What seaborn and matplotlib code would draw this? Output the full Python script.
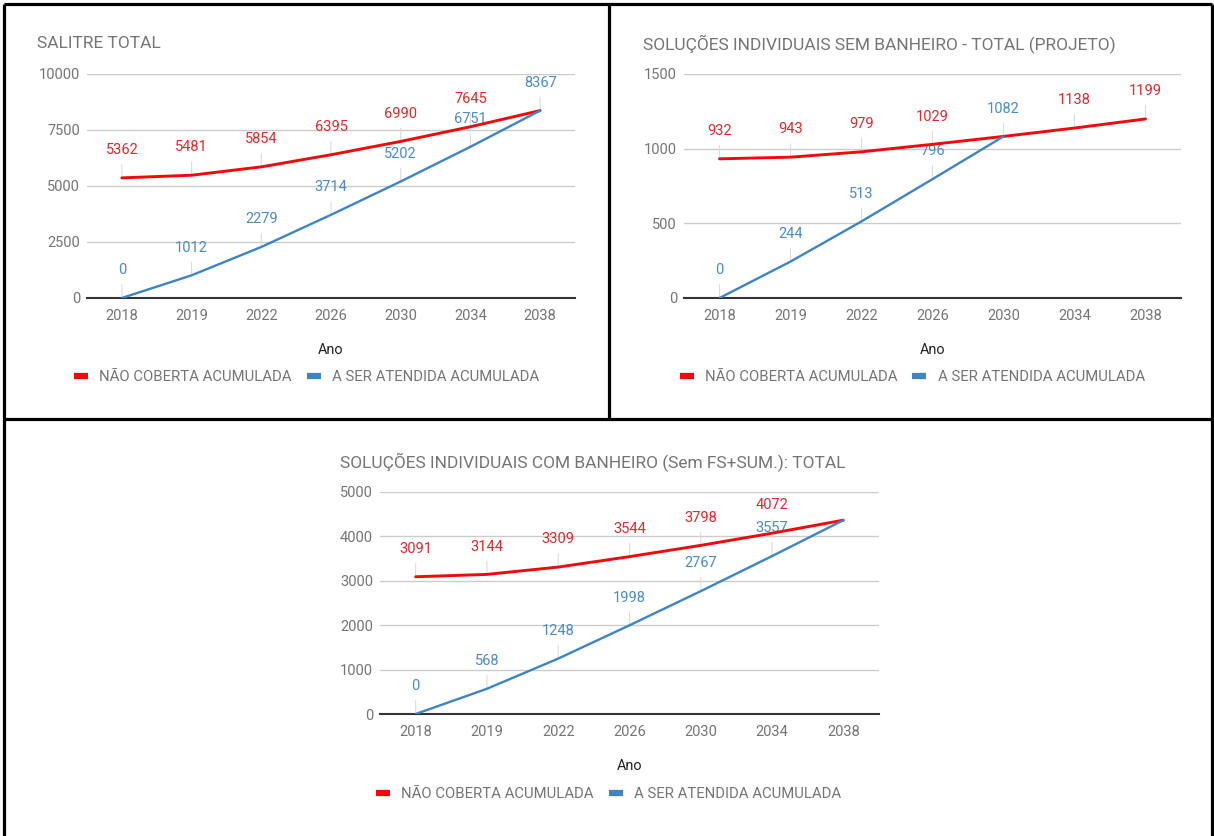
import numpy as np
import pandas as pd
import matplotlib
matplotlib.use("Agg")
import matplotlib.pyplot as plt
from matplotlib.lines import Line2D
import seaborn as sns

# dados
anos = ["2018", "2019", "2022", "2026", "2030", "2034", "2038"]
serie_nao = "NÃO COBERTA ACUMULADA"
serie_atend = "A SER ATENDIDA ACUMULADA"

salitre_nao = [5362, 5481, 5854, 6395, 6990, 7645, 8367]
salitre_atend = [0, 1012, 2279, 3714, 5202, 6751, 8367]
salitre_yticks = [0, 2500, 5000, 7500, 10000]

sem_banh_nao = [932, 943, 979, 1029, 1082, 1138, 1199]
sem_banh_atend = [0, 244, 513, 796, 1082, np.nan, np.nan]
sem_banh_yticks = [0, 500, 1000, 1500]

com_banh_nao = [3091, 3144, 3309, 3544, 3798, 4072, 4365]
com_banh_atend = [0, 568, 1248, 1998, 2767, 3557, 4365]
com_banh_yticks = [0, 1000, 2000, 3000, 4000, 5000]

RED = "#f00a0a"
RED_TXT = "#e8262c"
BLUE = "#3d85c6"
BLUE_TXT = "#4a8bc9"
GRAY = "#757575"

sns.set_theme(style="white")
plt.rcParams["font.family"] = ["Roboto", "DejaVu Sans"]

W, H = 1214, 836
fig = plt.figure(figsize=(W / 100, H / 100), dpi=100)


def px_axes(left, top, right, bottom):
    return fig.add_axes([left / W, 1 - bottom / H, (right - left) / W, (bottom - top) / H])


def chart(ax, titulo, tx, ty, nao, atend, yticks, hide_nao, hide_atend, leg_x, leg_y, ano_y):
    pos = np.arange(len(anos))
    df = pd.DataFrame({
        "pos": np.concatenate([pos, pos]),
        "valor": list(nao) + list(atend),
        "serie": [serie_nao] * len(anos) + [serie_atend] * len(anos),
    })
    sns.lineplot(data=df, x="pos", y="valor", hue="serie",
                 palette={serie_nao: RED, serie_atend: BLUE},
                 size="serie", sizes={serie_nao: 2.1, serie_atend: 1.7},
                 legend=False, ax=ax, zorder=3)

    for vals, cor, hide in [(nao, RED_TXT, hide_nao), (atend, BLUE_TXT, hide_atend)]:
        for i, v in enumerate(vals):
            if i in hide or np.isnan(v):
                continue
            ax.annotate(f"{int(v)}", xy=(i, v), xytext=(0, 20), textcoords="offset points",
                        ha="center", va="center", color=cor, fontsize=10.5, zorder=1.5,
                        arrowprops=dict(arrowstyle="-", color="#dcdcdc", lw=0.8,
                                        shrinkA=3, shrinkB=0))

    ax.set_xlim(-0.5, len(anos) - 0.5)
    ax.set_ylim(0, yticks[-1])
    ax.set_xticks(pos, anos)
    ax.set_yticks(yticks)
    ax.yaxis.grid(True, color="#cccccc", lw=1)
    ax.xaxis.grid(False)
    ax.tick_params(length=0, colors=GRAY, labelsize=10.5)
    ax.tick_params(axis="x", pad=8)
    ax.tick_params(axis="y", pad=5)
    for s in ["top", "left", "right"]:
        ax.spines[s].set_visible(False)
    ax.spines["bottom"].set_color("#333333")
    ax.spines["bottom"].set_linewidth(1.5)
    ax.set_ylabel("")
    ax.set_xlabel("Ano", fontsize=10.4, color="#222222")
    ax.xaxis.set_label_coords(0.5, ano_y)
    ax.xaxis.label.set_va("center")

    handles = [Line2D([], [], color=RED, lw=4.5, solid_capstyle="butt"),
               Line2D([], [], color=BLUE, lw=4.5, solid_capstyle="butt")]
    ax.legend(handles, [serie_nao, serie_atend], loc="center", bbox_to_anchor=(leg_x, leg_y),
              ncol=2, frameon=False, handlelength=0.95, handletextpad=0.75,
              columnspacing=1.0, fontsize=10.7, labelcolor=GRAY)

    fig.text(tx / W, 1 - ty / H, titulo, fontsize=12.5, color=GRAY, ha="left", va="center")


ax1 = px_axes(87, 74, 575, 298)
chart(ax1, "SALITRE TOTAL", 37, 44, salitre_nao, salitre_atend, salitre_yticks,
      [6], [], 0.45, -79 / 224, -52 / 224)

ax2 = px_axes(684, 74, 1181, 298)
chart(ax2, "SOLUÇÕES INDIVIDUAIS SEM BANHEIRO - TOTAL (PROJETO)", 643, 44,
      sem_banh_nao, sem_banh_atend, sem_banh_yticks, [4], [], 0.459, -79 / 224, -52 / 224)

ax3 = px_axes(380, 492, 879, 714)
chart(ax3, "SOLUÇÕES INDIVIDUAIS COM BANHEIRO (Sem FS+SUM.): TOTAL", 340, 462,
      com_banh_nao, com_banh_atend, com_banh_yticks, [6], [6], 0.458, -80 / 222, -52 / 222)

# moldura da tabela
def fline(x0, y0, x1, y1):
    fig.add_artist(Line2D([x0 / W, x1 / W], [1 - y0 / H, 1 - y1 / H],
                          color="black", lw=2.3, solid_capstyle="butt"))

fline(4, 4, 1212, 4)
fline(4, 4, 4, 836)
fline(1212, 4, 1212, 836)
fline(609, 4, 609, 419)
fline(4, 419, 1212, 419)

fig.savefig("out.png", dpi=100, facecolor="white")
